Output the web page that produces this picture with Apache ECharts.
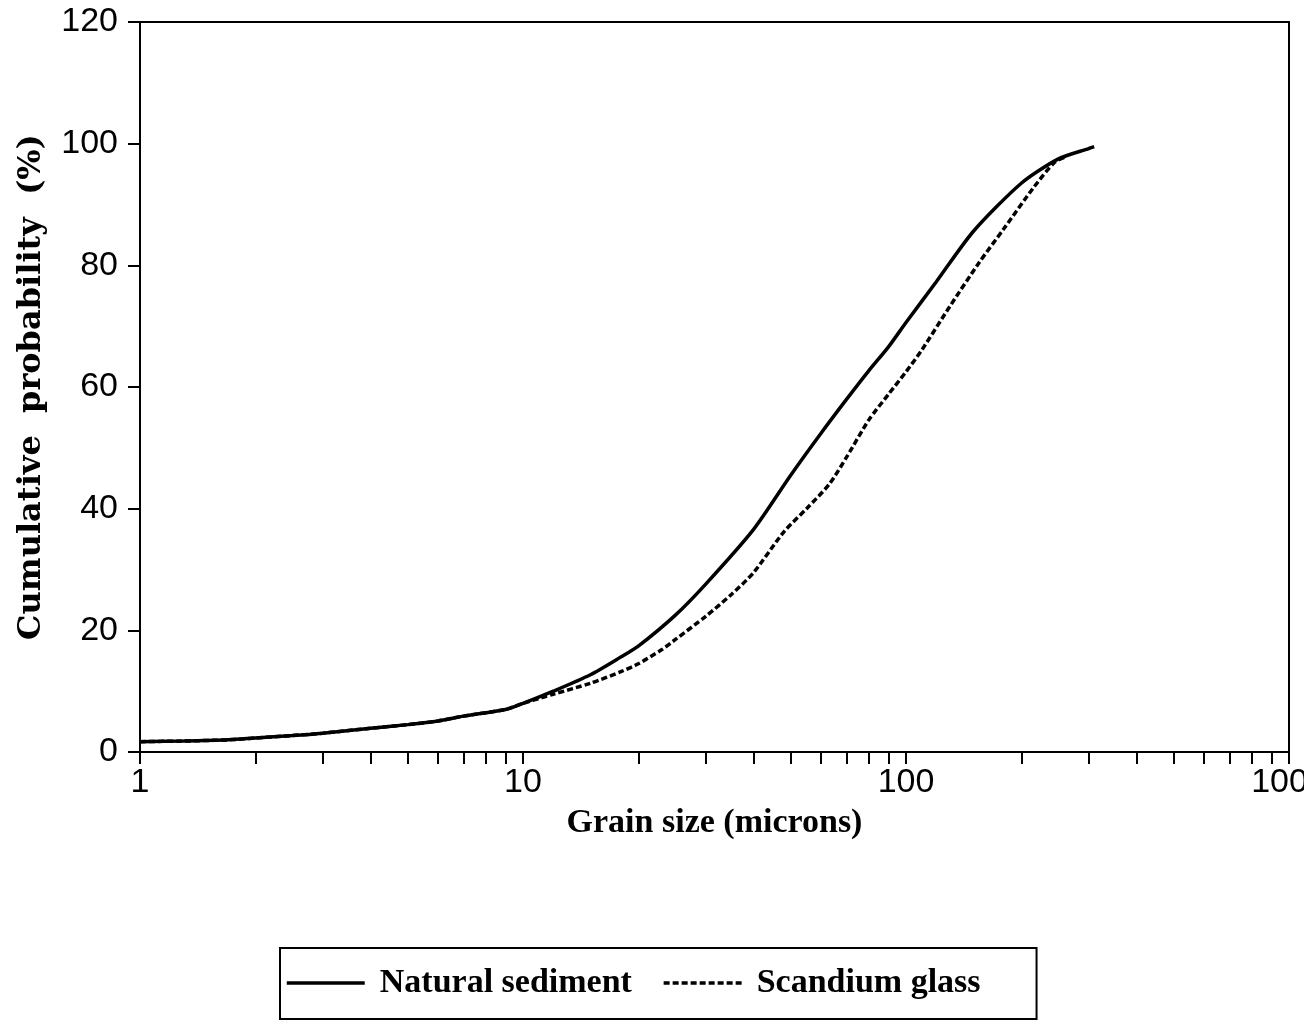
<!DOCTYPE html>
<html>
<head>
<meta charset="utf-8">
<script src="https://cdn.jsdelivr.net/npm/echarts@6/dist/echarts.min.js"></script>
<style>
html,body{margin:0;padding:0;background:#fff;}
#chart{width:1304px;height:1023px;}
</style>
</head>
<body>
<div id="chart"></div>
<script>
// Grain size (microns) and cumulative probability (%)
const naturalSize = [1, 1.3, 1.7, 2, 2.5, 3, 4, 5, 6, 7, 9, 10, 12, 15, 18, 20, 25, 30, 40, 50, 60, 70, 80, 90, 100, 120, 150, 200, 250, 300, 310];
const naturalProb = [1.7, 1.8, 2.0, 2.3, 2.7, 3.1, 3.9, 4.5, 5.1, 5.9, 7.0, 8.0, 10.0, 12.7, 15.6, 17.4, 22.5, 27.6, 36.6, 45.5, 52.4, 58.0, 62.7, 66.6, 70.6, 77.3, 85.6, 93.5, 97.5, 99.2, 99.5];

const glassSize = [1, 1.3, 1.7, 2, 2.5, 3, 4, 5, 6, 7, 9, 10, 12, 15, 18, 20, 23, 25, 30, 35, 40, 48, 55, 63, 70, 80, 90, 100, 110, 130, 155, 180, 216, 244, 260];
const glassProb = [1.7, 1.8, 2.0, 2.3, 2.7, 3.1, 3.9, 4.5, 5.1, 5.9, 7.0, 8.0, 9.5, 11.3, 13.2, 14.5, 16.8, 18.5, 22.3, 25.9, 29.5, 36.2, 40.0, 44.0, 48.5, 54.6, 58.8, 62.5, 66.1, 73.2, 80.4, 86.0, 92.9, 96.9, 97.8];

const seriesNames = ['Natural sediment', 'Scandium glass'];
const xTitle = 'Grain size (microns)';
const yTitle = 'Cumulative  probability  (%)';
const minorTickValues = [2,3,4,5,6,7,8,9,20,30,40,50,60,70,80,90,200,300,400,500,600,700,800,900];
const majorTickValues = [1, 10, 100, 1000];

const pair = (xs, ys) => xs.map((x, i) => [x, ys[i]]);

const chart = echarts.init(document.getElementById('chart'), null, {renderer: 'canvas'});
chart.setOption({
  backgroundColor: '#fff',
  animation: false,
  grid: {left: 140, right: 15, top: 22, bottom: 271, show: true, borderColor: '#000', borderWidth: 2,
    backgroundColor: 'transparent', containLabel: false, outerBoundsMode: 'none'},
  xAxis: {
    type: 'log',
    logBase: 10,
    min: 1,
    max: 1000,
    name: xTitle,
    nameLocation: 'middle',
    nameGap: 54,
    nameTextStyle: {fontFamily: 'Liberation Serif', fontWeight: 'bold', fontSize: 34, color: '#000'},
    axisLine: {lineStyle: {color: '#000', width: 2}},
    axisTick: {show: true, inside: false, length: 12, lineStyle: {color: '#000', width: 2},
      customValues: majorTickValues.concat(minorTickValues)},
    minorTick: {show: false},
    axisLabel: {color: '#000', fontFamily: 'Liberation Sans', fontSize: 34, margin: 14,
      customValues: majorTickValues, formatter: v => String(Math.round(v))},
    splitLine: {show: false}
  },
  yAxis: {
    type: 'value',
    min: 0,
    max: 120,
    interval: 20,
    name: yTitle,
    nameLocation: 'middle',
    nameGap: 92,
    nameTextStyle: {fontFamily: 'DejaVu Serif', fontWeight: 'bold', fontSize: 32, color: '#000'},
    axisLine: {show: true, lineStyle: {color: '#000', width: 2}},
    axisTick: {show: true, inside: false, length: 12, lineStyle: {color: '#000', width: 2}},
    axisLabel: {color: '#000', fontFamily: 'Liberation Sans', fontSize: 34, margin: 22},
    splitLine: {show: false}
  },
  legend: {
    left: 280,
    top: 948,
    orient: 'horizontal',
    padding: [18, 56, 19, 5],
    itemGap: 30,
    itemWidth: 78,
    itemHeight: 14,
    borderColor: '#000',
    borderWidth: 2,
    itemStyle: {opacity: 0},
    lineStyle: {width: 3.5},
    textStyle: {fontFamily: 'Liberation Serif', fontWeight: 'bold', fontSize: 34, color: '#000', padding: [0, 0, 0, 10]},
    data: seriesNames
  },
  series: [
    {
      name: seriesNames[0],
      type: 'line',
      symbol: 'none',
      smooth: 0.25,
      data: pair(naturalSize, naturalProb),
      lineStyle: {color: '#000', width: 3.5, type: 'solid'},
      itemStyle: {color: '#000'},
      z: 3
    },
    {
      name: seriesNames[1],
      type: 'line',
      symbol: 'none',
      smooth: 0.25,
      data: pair(glassSize, glassProb),
      lineStyle: {color: '#000', width: 3.5, type: [6, 3]},
      itemStyle: {color: '#000'},
      z: 2
    }
  ]
});
</script>
</body>
</html>
